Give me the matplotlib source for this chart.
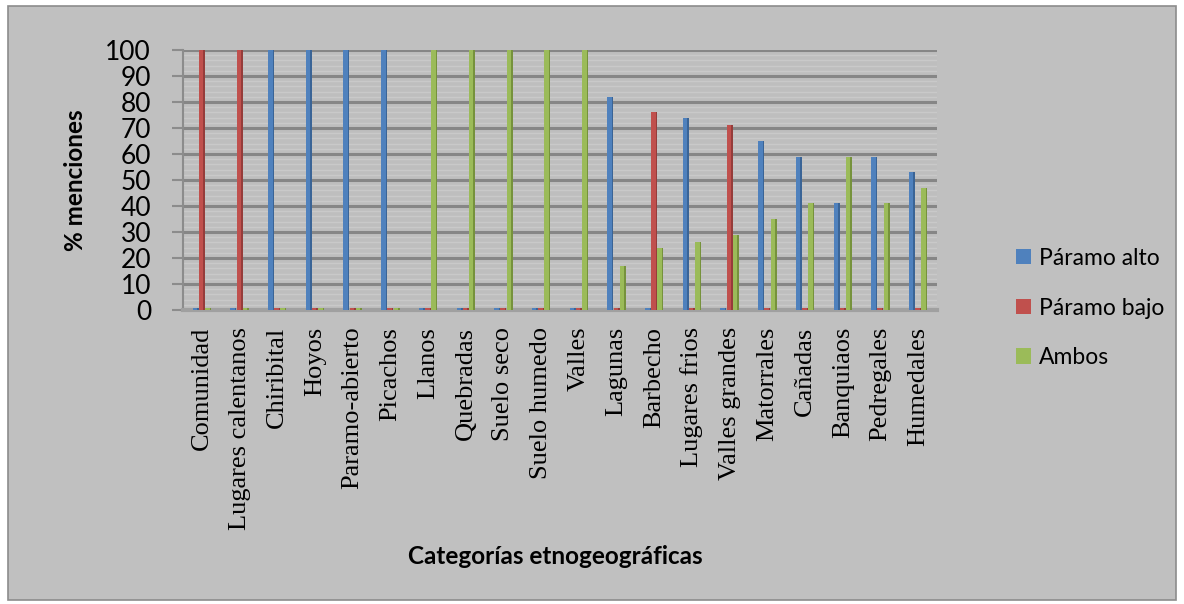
import numpy as np
import matplotlib.pyplot as plt
from matplotlib.patches import Rectangle

# Datos
categories = ['Comunidad', 'Lugares calentanos', 'Chiribital', 'Hoyos', 'Paramo-abierto',
              'Picachos', 'Llanos', 'Quebradas', 'Suelo seco', 'Suelo humedo', 'Valles',
              'Lagunas', 'Barbecho', 'Lugares frios', 'Valles grandes', 'Matorrales',
              'Cañadas', 'Banquiaos', 'Pedregales', 'Humedales']
paramo_alto = [0, 0, 100, 100, 100, 100, 0, 0, 0, 0, 0, 82, 0, 74, 0, 65, 59, 41, 59, 53]
paramo_bajo = [100, 100, 0, 0, 0, 0, 0, 0, 0, 0, 0, 0, 76, 0, 71, 0, 0, 0, 0, 0]
ambos = [0, 0, 0, 0, 0, 0, 100, 100, 100, 100, 100, 17, 24, 26, 29, 35, 41, 59, 41, 47]
series_names = ['Páramo alto', 'Páramo bajo', 'Ambos']
yticks = list(range(0, 101, 10))

colors = ['#4f81bd', '#c0504d', '#9bbb59']
shades = ['#3a6496', '#963c3a', '#76923c']

W, H = 1184, 604
fig = plt.figure(figsize=(W / 100, H / 100), dpi=100)
fig.patch.set_facecolor('white')
fig.patches.append(Rectangle((8 / W, 4 / H), 1168 / W, 594 / H, transform=fig.transFigure,
                             facecolor='#c0c0c0', edgecolor='#8c8c8c', lw=1.2, zorder=-1))

ax = fig.add_axes([183 / W, 1 - 310 / H, 754 / W, 260 / H])
ax.set_facecolor('#bebebe')

x = np.arange(len(categories))
offsets = [-0.165, 0.0, 0.165]
width = 0.16
handles = []
for vals, off, c, sc in zip([paramo_alto, paramo_bajo, ambos], offsets, colors, shades):
    v = np.maximum(np.array(vals, dtype=float), 0.6)  # Excel muestra una lamina en los ceros
    b = ax.bar(x + off, v, width, color=c, zorder=3)
    ax.bar(x + off + width / 2 - 0.02, v, 0.04, color=sc, zorder=4)
    handles.append(b)

ax.set_xlim(-0.5, len(categories) - 0.5)
ax.set_ylim(0, 100)
ax.set_yticks(yticks)
ax.set_yticks(np.arange(0, 100, 2), minor=True)
ax.grid(axis='y', which='major', color='#868686', lw=2.2, zorder=1)
ax.grid(axis='y', which='minor', color='#c9c9c9', lw=1.0, zorder=0)
ax.tick_params(axis='y', which='minor', length=0)
ax.tick_params(axis='y', which='major', length=8, width=1.5, color='#8c8c8c', pad=15,
               labelsize=19)
for t in ax.get_yticklabels():
    t.set_fontfamily('Lato')

ax.set_xticks(x)
ax.set_xticklabels(categories, rotation=90, fontfamily='Liberation Serif', fontsize=19)
ax.tick_params(axis='x', length=0, pad=12)

for s in ['top', 'right']:
    ax.spines[s].set_visible(False)
ax.spines['left'].set_color('#8c8c8c')
ax.spines['left'].set_linewidth(1.5)
ax.spines['bottom'].set_color('#a0a0a0')
ax.spines['bottom'].set_linewidth(3)

ax.set_ylabel('% menciones', fontfamily='Lato', fontweight='bold', fontsize=17.5)
ax.yaxis.set_label_coords((87 - 183) / 754, 0.5)

fig.text(555 / W, 1 - 557 / H, 'Categorías etnogeográficas', ha='center', va='center',
         fontfamily='Lato', fontweight='bold', fontsize=17.5)

fig.legend(handles, series_names, loc='center left', bbox_to_anchor=(995 / W, 1 - 308 / H),
           frameon=False, prop={'family': 'Lato', 'size': 16.5}, labelspacing=1.25,
           handlelength=0.65, handleheight=0.65, handletextpad=0.35)

plt.savefig('out.png', dpi=100, facecolor=fig.get_facecolor())
